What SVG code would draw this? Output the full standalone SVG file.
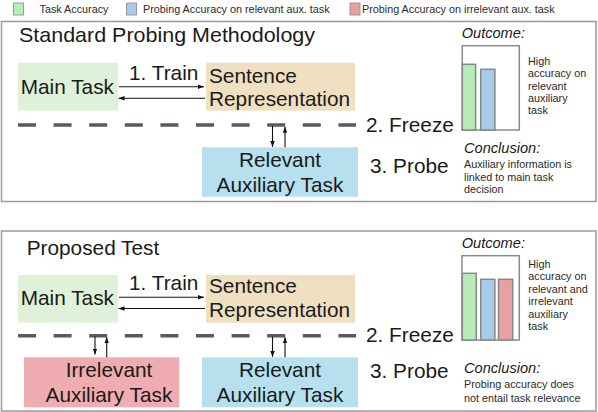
<svg xmlns="http://www.w3.org/2000/svg" width="598" height="412" viewBox="0 0 598 412">
<defs>
<style>
.t{font-family:"Liberation Sans",Arial,sans-serif;fill:#1a1a1a}
.big{font-size:20.8px}
.sm{font-size:10.8px;fill:#2a2a2a}
.it{font-size:14.6px;font-style:italic}
.panel{fill:#fff;stroke:#9a9a9a;stroke-width:1.5}
.dash{stroke:#585b61;stroke-width:3.5;stroke-dasharray:18 17.6;fill:none}
.arr{stroke:#111;stroke-width:1.1;fill:none;marker-end:url(#ah)}
.frame{fill:#fff;stroke:#8a8a8a;stroke-width:1.5}
.bar{stroke:#888;stroke-width:1.5}
.leg{stroke:#999;stroke-width:1}
.g{fill:#b6ebba}.b{fill:#a9cbea}.r{fill:#e9a0a0}
</style>
<marker id="ah" viewBox="0 0 8 6" refX="8" refY="3" markerWidth="6" markerHeight="4.5" markerUnits="userSpaceOnUse" orient="auto">
<path d="M0,0 L8,3 L0,6 z" fill="#111"/>
</marker>
</defs>
<rect width="598" height="412" fill="#fff"/>

<g id="legend">
<rect class="leg g" x="13.5" y="3" width="10" height="12"/>
<text class="t sm" x="39.5" y="12.8">Task Accuracy</text>
<rect class="leg b" x="126.5" y="3" width="10" height="12"/>
<text class="t sm" x="143" y="12.8">Probing Accuracy on relevant aux. task</text>
<rect class="leg r" x="350" y="3" width="10" height="12"/>
<text class="t sm" x="362" y="12.8">Probing Accuracy on irrelevant aux. task</text>
</g>

<!-- Top panel -->
<g id="panel-standard">
<rect class="panel" x="1.5" y="21.5" width="594.5" height="180"/>
<text class="t big" x="19" y="42" textLength="296" lengthAdjust="spacingAndGlyphs">Standard Probing Methodology</text>
</g>
<g id="main-task-1">
<rect x="18" y="62.7" width="100" height="48" fill="#dff2d9"/>
<text class="t big" x="20.7" y="94">Main Task</text>
</g>
<g id="sentence-rep-1">
<rect x="206" y="62.7" width="149" height="48" fill="#f0e0c2"/>
<text class="t big" x="209" y="82.5">Sentence</text>
<text class="t big" x="209" y="106">Representation</text>
</g>
<g id="relevant-aux-1">
<rect x="202" y="147.3" width="156" height="49.4" fill="#b7e0ee"/>
<text class="t big" x="280" y="166.7" text-anchor="middle">Relevant</text>
<text class="t big" x="280" y="191.5" text-anchor="middle">Auxiliary Task</text>
</g>
<g id="labels-1">
<text class="t big" x="129" y="80">1. Train</text>
<text class="t big" x="366" y="132.3">2. Freeze</text>
<text class="t big" x="370" y="172.7">3. Probe</text>
</g>
<g id="outcome-1">
<text class="t it" x="461.7" y="38.3">Outcome:</text>
<rect class="frame" x="462.3" y="45.7" width="57" height="84.3"/>
<rect class="bar g" x="462.3" y="64.3" width="13.3" height="65.7"/>
<rect class="bar b" x="480.7" y="69.3" width="14.2" height="60.7"/>
<text class="t sm" x="528" y="65">High</text>
<text class="t sm" x="528" y="77.3">accuracy on</text>
<text class="t sm" x="528" y="89.5">relevant</text>
<text class="t sm" x="528" y="101.5">auxiliary</text>
<text class="t sm" x="528" y="113.5">task</text>
</g>
<g id="conclusion-1">
<text class="t it" x="464" y="152.7">Conclusion:</text>
<text class="t sm" x="464" y="168.3">Auxiliary information is</text>
<text class="t sm" x="464" y="180.7">linked to main task</text>
<text class="t sm" x="464" y="193.3">decision</text>
</g>

<!-- Bottom panel -->
<g id="panel-proposed">
<rect class="panel" x="1.5" y="231" width="594.5" height="180"/>
<text class="t big" x="26.7" y="255">Proposed Test</text>
</g>
<g id="main-task-2">
<rect x="18" y="275" width="100" height="47.7" fill="#dff2d9"/>
<text class="t big" x="20.7" y="305">Main Task</text>
</g>
<g id="sentence-rep-2">
<rect x="206" y="275" width="149" height="47.7" fill="#f0e0c2"/>
<text class="t big" x="209" y="293">Sentence</text>
<text class="t big" x="209" y="316.7">Representation</text>
</g>
<g id="irrelevant-aux-2">
<rect x="24" y="357.3" width="155.3" height="50" fill="#f0adb1"/>
<text class="t big" x="109" y="377.3" text-anchor="middle">Irrelevant</text>
<text class="t big" x="109" y="401.7" text-anchor="middle">Auxiliary Task</text>
</g>
<g id="relevant-aux-2">
<rect x="202" y="357.3" width="156" height="50" fill="#b7e0ee"/>
<text class="t big" x="280" y="377.3" text-anchor="middle">Relevant</text>
<text class="t big" x="280" y="401.7" text-anchor="middle">Auxiliary Task</text>
</g>
<g id="labels-2">
<text class="t big" x="129" y="290">1. Train</text>
<text class="t big" x="366" y="341.7">2. Freeze</text>
<text class="t big" x="370" y="378.3">3. Probe</text>
</g>
<g id="outcome-2">
<text class="t it" x="461.7" y="248.3">Outcome:</text>
<rect class="frame" x="462" y="255.7" width="57.3" height="84.3"/>
<rect class="bar g" x="462.3" y="273.3" width="14" height="66.7"/>
<rect class="bar b" x="480.7" y="279.3" width="14.2" height="60.7"/>
<rect class="bar r" x="498.5" y="279.3" width="14.2" height="60.7"/>
<text class="t sm" x="528.3" y="267.7">High</text>
<text class="t sm" x="528.3" y="280.3">accuracy on</text>
<text class="t sm" x="528.3" y="292.7">relevant and</text>
<text class="t sm" x="528.3" y="305">irrelevant</text>
<text class="t sm" x="528.3" y="317.5">auxiliary</text>
<text class="t sm" x="528.3" y="330">task</text>
</g>
<g id="conclusion-2">
<text class="t it" x="464" y="373.3">Conclusion:</text>
<text class="t sm" x="464" y="388.3">Probing accuracy does</text>
<text class="t sm" x="464" y="401.7">not entail task relevance</text>
</g>

<g id="connectors">
<line class="dash" x1="18" y1="125" x2="356" y2="125"/>
<line class="dash" x1="18" y1="335.7" x2="356" y2="335.7"/>
<line class="arr" x1="119" y1="86.7" x2="204" y2="86.7"/>
<line class="arr" x1="205" y1="98.3" x2="118.5" y2="98.3"/>
<line class="arr" x1="272.5" y1="126" x2="272.5" y2="147"/>
<line class="arr" x1="285" y1="147.3" x2="285" y2="126.8"/>
<line class="arr" x1="119" y1="297.3" x2="204" y2="297.3"/>
<line class="arr" x1="205" y1="308.5" x2="118.5" y2="308.5"/>
<line class="arr" x1="95" y1="336.5" x2="95" y2="354.5"/>
<line class="arr" x1="106.7" y1="357.3" x2="106.7" y2="337.3"/>
<line class="arr" x1="272.5" y1="336.5" x2="272.5" y2="357"/>
<line class="arr" x1="285" y1="357.3" x2="285" y2="337.3"/>
</g>
</svg>
